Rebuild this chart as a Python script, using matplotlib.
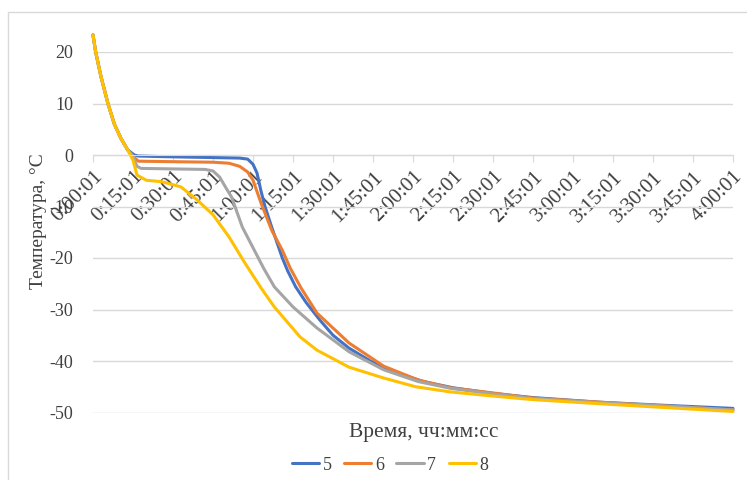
import matplotlib
matplotlib.use("Agg")
import matplotlib.pyplot as plt
from matplotlib.patches import Rectangle

plt.rcParams['font.family'] = ['Liberation Serif', 'DejaVu Serif']
plt.rcParams['axes.unicode_minus'] = False

# time in minutes from start, temperature in °C
t5 = [0, 1, 3, 5.6, 8, 10.5, 13, 15.5, 17, 25, 35, 45, 55, 58, 60, 61.5, 63, 64.5, 67, 69, 71, 73, 76, 80, 85, 90, 96, 104, 112, 124, 135, 150, 165, 190, 210, 240]
y5 = [23.3, 20, 15.2, 10, 6, 3.2, 1, 0, -0.2, -0.3, -0.4, -0.5, -0.6, -0.8, -1.8, -3.5, -7, -10, -14, -17, -20, -22.5, -25.6, -28.7, -32, -35, -37.5, -40, -42, -44, -45.2, -46.3, -47.1, -48, -48.5, -49.2]

t6 = [0, 1, 3, 5.6, 8, 10.5, 13, 15.5, 17, 30, 45, 51, 55, 58, 60, 63, 67, 71, 74, 78, 84, 96, 109, 122, 134, 150, 165, 190, 210, 240]
y6 = [23.3, 20, 15.2, 10, 6, 3.2, 1, -0.5, -1.2, -1.3, -1.4, -1.6, -2.2, -3.3, -4.9, -9.3, -14.6, -18.5, -22, -25.8, -30.7, -36.5, -41, -43.7, -45.2, -46.2, -47.2, -48, -48.6, -49.5]

t7 = [0, 1, 3, 5.6, 8, 10.5, 13, 15, 16.5, 18, 30, 42, 45, 47.5, 50, 52, 56, 61, 64, 68, 75, 84, 96, 109, 122, 134, 150, 165, 190, 210, 240]
y7 = [23.3, 20, 15.2, 10, 6, 3.2, 1, -0.3, -2.2, -2.6, -2.7, -2.8, -3.1, -4.3, -6.5, -8.2, -14, -19, -22, -25.6, -29.5, -33.6, -38.2, -41.7, -44, -45.3, -46.4, -47.3, -48.1, -48.6, -49.5]

t8 = [0, 1, 3, 5.6, 8, 10.5, 13, 15, 16.5, 20, 26, 33, 39, 45, 51, 57, 63, 68, 77.6, 84, 96, 109, 121, 134, 150, 165, 190, 210, 240]
y8 = [23.3, 20, 15.2, 10, 6, 3.2, 1, -1, -3.9, -4.9, -5.2, -6.2, -8.7, -11.6, -15.9, -21, -25.8, -29.5, -35.3, -37.9, -41.2, -43.3, -45, -46, -46.8, -47.5, -48.3, -48.9, -49.8]

series = [('5', t5, y5, '#4472C4'), ('6', t6, y6, '#ED7D31'),
          ('7', t7, y7, '#A5A5A5'), ('8', t8, y8, '#FFC000')]

xticks = [0, 15, 30, 45, 60, 75, 90, 105, 120, 135, 150, 165, 180, 195, 210, 225, 240]
xlabels = ['0:00:01', '0:15:01', '0:30:01', '0:45:01', '1:00:01', '1:15:01', '1:30:01', '1:45:01',
           '2:00:01', '2:15:01', '2:30:01', '2:45:01', '3:00:01', '3:15:01', '3:30:01', '3:45:01', '4:00:01']
yticks = [-50, -40, -30, -20, -10, 0, 10, 20]

fig = plt.figure(figsize=(7.47, 4.8), dpi=100)
ax = fig.add_axes([93/747, 67.5/480, 640/747, 360.5/480])

for name, t, y, c in series:
    ax.plot(t, y, color=c, lw=2.2, label=name, clip_on=False, solid_capstyle='round')

for s in ['top', 'right', 'left']:
    ax.spines[s].set_visible(False)
ax.spines['bottom'].set_position(('data', 0))
ax.spines['bottom'].set_color('#d9d9d9')

ax.set_xlim(0, 240)
ax.set_ylim(-50, 20)
ax.set_yticks(yticks)
ax.set_yticklabels([str(v) for v in yticks])
ax.set_xticks(xticks)
ax.set_xticklabels(xlabels, rotation=45, ha='right', va='top', rotation_mode='anchor')
ax.grid(axis='y', color='#d9d9d9', lw=1)
ax.set_axisbelow(True)
ax.tick_params(axis='y', length=0, labelsize=13, colors='#404040', pad=14)
ax.tick_params(axis='x', length=5, color='#d9d9d9', labelsize=15, labelcolor='#404040', pad=4)

ax.set_ylabel('Температура, °C', fontsize=14, color='#404040')
ax.yaxis.set_label_coords(-0.072, 0.53)

fig.text(424/747, 1 - 432/480, 'Время, чч:мм:сс', fontsize=15.5, color='#404040', ha='center', va='center')

leg = fig.legend(loc='center', bbox_to_anchor=(390/747, 1 - 465/480), ncol=4, frameon=False,
                 fontsize=13, handlelength=1.5, handletextpad=0.2, columnspacing=0.7)
for txt in leg.get_texts():
    txt.set_color('#404040')

fig.add_artist(Rectangle((8/747, -0.05), 1.2, 1.05 - 12/480, transform=fig.transFigure,
                         fill=False, edgecolor='#d9d9d9', lw=1))

fig.savefig('out.png', dpi=100)
